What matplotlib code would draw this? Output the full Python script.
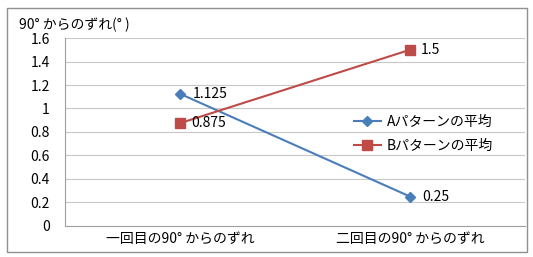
import matplotlib
matplotlib.use("Agg")
import matplotlib.pyplot as plt
from matplotlib.patches import Rectangle

plt.rcParams['font.family'] = ['Noto Sans CJK JP', 'DejaVu Sans']

categories = ['一回目の90° からのずれ', '二回目の90° からのずれ']
a_vals = [1.125, 0.25]
b_vals = [0.875, 1.5]
a_labels = ['1.125', '0.25']
b_labels = ['0.875', '1.5']
yticks = [0, 0.2, 0.4, 0.6, 0.8, 1, 1.2, 1.4, 1.6]
ytick_labels = ['0', '0.2', '0.4', '0.6', '0.8', '1', '1.2', '1.4', '1.6']

fs = 10
fig = plt.figure(figsize=(5.33, 2.57), dpi=100)
ax = fig.add_axes([0.122, 0.121, 0.863, 0.731])

x = [0, 1]
ax.plot(x, a_vals, color='#4a7ebb', marker='D', markersize=5, lw=1.5,
        label='Aパターンの平均')
ax.plot(x, b_vals, color='#be4b48', marker='s', markersize=6.5, lw=1.5,
        label='Bパターンの平均')

for xi, v, t in zip(x, a_vals, a_labels):
    ax.annotate(t, (xi, v), xytext=(9, 0), textcoords='offset points',
                va='center', fontsize=fs)
for xi, v, t in zip(x, b_vals, b_labels):
    ax.annotate(t, (xi, v), xytext=(8, 0), textcoords='offset points',
                va='center', fontsize=fs)

ax.set_xlim(-0.5, 1.5)
ax.set_ylim(0, 1.6)
ax.set_yticks(yticks)
ax.set_yticklabels(ytick_labels, fontsize=fs)
ax.set_xticks(x)
ax.set_xticklabels(categories, fontsize=fs)
ax.tick_params(axis='y', length=0, pad=11)
ax.tick_params(axis='x', length=0, pad=4)
ax.yaxis.grid(True, color='#c8c8c8', lw=0.8)
ax.set_axisbelow(True)
for s in ['top', 'right']:
    ax.spines[s].set_visible(False)
ax.spines['left'].set_color('#a0a0a0')
ax.spines['bottom'].set_color('#a0a0a0')

ax.legend(loc='center left', bbox_to_anchor=(0.6, 0.49), frameon=False,
          fontsize=fs, handlelength=2.0, handletextpad=0.4, labelspacing=0.75)

fig.text(0.035, 0.905, '90° からのずれ(° )', fontsize=fs, va='center')
fig.patches.append(Rectangle((0.013, 0.02), 0.975, 0.948, transform=fig.transFigure,
                             fill=False, edgecolor='#909090', lw=1))

fig.savefig('out.png', dpi=100)
